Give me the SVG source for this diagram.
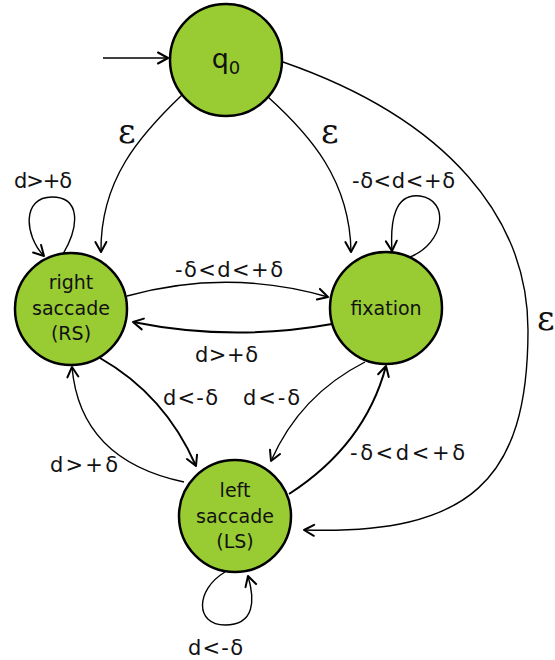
<svg xmlns="http://www.w3.org/2000/svg" width="555" height="660" viewBox="0 0 555 660">
  <style>
    .node circle { fill: #99cc33; stroke: #000; stroke-width: 2.5; }
    .node text { font-family: "DejaVu Sans", Verdana, sans-serif; font-size: 19px; fill: #111; text-anchor: middle; }
    .edge { fill: none; stroke: #000; stroke-width: 1.4; marker-end: url(#arrow); }
    .edge.thick { stroke-width: 2; }
    .lbl { font-family: "DejaVu Sans", Verdana, sans-serif; font-size: 21px; fill: #111; }
    .eps { font-family: "DejaVu Serif", "Liberation Serif", serif; font-size: 34px; fill: #111; }
  </style>
  <defs>
    <marker id="arrow" markerUnits="userSpaceOnUse" markerWidth="16" markerHeight="16" viewBox="-12 -8 14 16" refX="0" refY="0" orient="auto">
      <path d="M-10,-5.5 L0,0 L-10,5.5" fill="none" stroke="#000" stroke-width="2" stroke-linecap="round" stroke-linejoin="round"/>
    </marker>
  </defs>

  <!-- transitions -->
  <g id="connectors">
    <path class="edge" d="M103,58 L168,58"/>
    <path class="edge" d="M182,95 C140,135 100,180 101,252"/>
    <path class="edge" d="M268,97 C310,135 350,180 351,252"/>
    <path class="edge" d="M283,62 C450,120 528,220 528,330 C528,480 470,535 304,530"/>
    <path class="edge" d="M63,254 C80,225 80,197 52,197 C22,197 24,235 44,256"/>
    <path class="edge" d="M410,257 C445,243 450,200 420,196 C395,193 390,220 392,251"/>
    <path class="edge" d="M127,296 Q228,268 328,297"/>
    <path class="edge thick" d="M332,324 Q232,342 133,322"/>
    <path class="edge thick" d="M100,358 Q165,395 196,466"/>
    <path class="edge" d="M184,482 Q80,460 72,367"/>
    <path class="edge" d="M365,362 Q300,395 271,461"/>
    <path class="edge thick" d="M289,494 Q365,445 386,366"/>
    <path class="edge" d="M225,572 C195,590 195,625 225,625 C255,625 255,600 248,576"/>
  </g>

  <!-- transition labels -->
  <g id="labels">
    <text class="eps" x="118" y="143">ε</text>
    <text class="eps" x="321" y="143">ε</text>
    <text class="eps" x="537" y="330">ε</text>
    <text class="lbl" x="14" y="188" textLength="58" lengthAdjust="spacing">d&gt;+δ</text>
    <text class="lbl" x="352" y="188" textLength="103" lengthAdjust="spacing">-δ&lt;d&lt;+δ</text>
    <text class="lbl" x="175" y="277" textLength="108" lengthAdjust="spacing">-δ&lt;d&lt;+δ</text>
    <text class="lbl" x="195" y="362" textLength="63" lengthAdjust="spacing">d&gt;+δ</text>
    <text class="lbl" x="163" y="405" textLength="55" lengthAdjust="spacing">d&lt;-δ</text>
    <text class="lbl" x="243" y="405" textLength="57" lengthAdjust="spacing">d&lt;-δ</text>
    <text class="lbl" x="50" y="472" textLength="68" lengthAdjust="spacing">d&gt;+δ</text>
    <text class="lbl" x="350" y="460" textLength="115" lengthAdjust="spacing">-δ&lt;d&lt;+δ</text>
    <text class="lbl" x="188" y="655" textLength="55" lengthAdjust="spacing">d&lt;-δ</text>
  </g>

  <!-- states -->
  <g id="q0" class="node">
    <circle cx="226" cy="60" r="56"/>
    <text x="226" y="68" style="font-size:27px">q<tspan font-size="18" dy="6">0</tspan></text>
  </g>
  <g id="rs" class="node">
    <circle cx="71" cy="309" r="56"/>
    <text x="71" y="289">right</text>
    <text x="71" y="315">saccade</text>
    <text x="71" y="340">(RS)</text>
  </g>
  <g id="fixation" class="node">
    <circle cx="386" cy="308" r="56"/>
    <text x="386" y="315">fixation</text>
  </g>
  <g id="ls" class="node">
    <circle cx="235" cy="516" r="56"/>
    <text x="235" y="497">left</text>
    <text x="235" y="523">saccade</text>
    <text x="235" y="548">(LS)</text>
  </g>
</svg>
